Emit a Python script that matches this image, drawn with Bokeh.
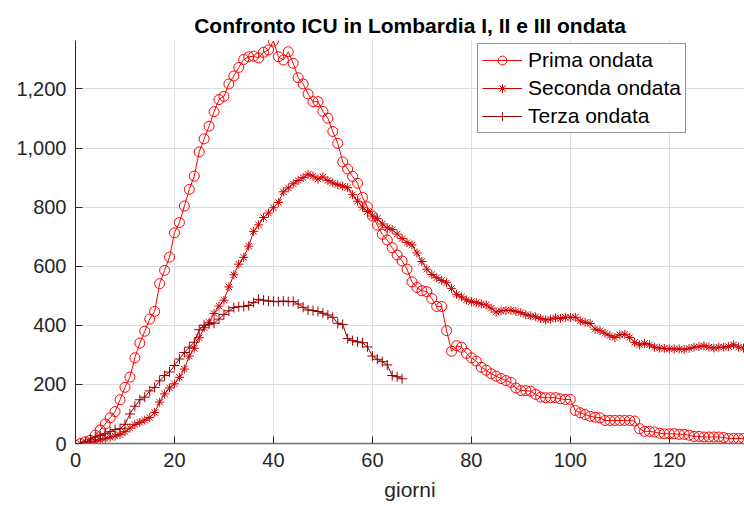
from bokeh.plotting import figure
from bokeh.models import Range1d, NumeralTickFormatter, FixedTicker, Legend, LegendItem
from bokeh.embed import file_html
from bokeh.resources import INLINE

# ---- data ----
prima = [0, 6, 11, 28, 46, 66, 87, 108, 148, 190,
         225, 290, 340, 380, 421, 447, 541, 586, 631, 713,
         748, 804, 860, 905, 987, 1031, 1074, 1123, 1164, 1175,
         1217, 1244, 1273, 1300, 1309, 1311, 1305, 1324, 1332, 1362,
         1309, 1298, 1326, 1287, 1238, 1217, 1183, 1157, 1157, 1124,
         1101, 1056, 1016, 953, 929, 904, 881, 833, 801, 770,
         739, 708, 689, 663, 638, 618, 590, 547, 528, 517,
         514, 491, 464, 464, 382, 312, 331, 326, 305, 290,
         279, 258, 248, 236, 228, 220, 213, 207, 188, 179,
         179, 177, 166, 157, 155, 155, 155, 151, 149, 149,
         112, 104, 98, 92, 89, 87, 78, 78, 78, 78,
         78, 78, 76, 50, 41, 41, 39, 35, 33, 33,
         33, 31, 31, 28, 24, 24, 22, 22, 22, 22,
         20, 17, 17, 17, 17]

seconda = [0, 2, 4, 8, 12, 16, 21, 25, 30, 40,
           52, 64, 71, 79, 88, 105, 140, 168, 188, 202,
           224, 252, 296, 322, 358, 392, 410, 440, 465, 485,
           530, 571, 607, 630, 668, 718, 740, 765, 780, 798,
           816, 852, 865, 879, 890, 900, 911, 905, 895, 902,
           890, 882, 876, 871, 866, 842, 820, 800, 785, 770,
           762, 743, 730, 724, 709, 694, 680, 672, 645, 616,
           590, 572, 561, 552, 544, 525, 505, 496, 486, 480,
           477, 472, 469, 458, 445, 449, 451, 451, 447, 443,
           436, 432, 429, 423, 418, 421, 425, 423, 427, 427,
           427, 415, 410, 406, 387, 382, 373, 365, 359, 368,
           370, 359, 342, 334, 339, 334, 326, 323, 322, 320,
           320, 320, 318, 322, 326, 328, 331, 326, 323, 326,
           326, 328, 334, 326, 323]

terza = [0, 5, 15, 22, 27, 33, 40, 47, 50, 65,
         100, 126, 148, 157, 178, 190, 212, 230, 242, 264,
         286, 308, 326, 343, 385, 400, 404, 407, 421, 437,
         449, 460, 463, 464, 467, 477, 488, 485, 482, 481,
         480, 482, 480, 481, 472, 461, 452, 450, 447, 441,
         435, 427, 407, 403, 355, 348, 344, 341, 327, 296,
         285, 277, 266, 230, 226, 219]

days_prima = list(range(1, len(prima) + 1))
days_seconda = list(range(1, len(seconda) + 1))
days_terza = list(range(1, len(terza) + 1))

x_ticks = [0, 20, 40, 60, 80, 100, 120]
y_ticks = [0, 200, 400, 600, 800, 1000, 1200]

title_text = "Confronto ICU in Lombardia I, II e III ondata"
x_label = "giorni"
labels = ["Prima ondata", "Seconda ondata", "Terza ondata"]

FONT = "Liberation Sans"
AX = "#262626"

p = figure(width=744, height=506, output_backend="svg", toolbar_location=None,
           x_range=Range1d(0, 135.2), y_range=Range1d(0, 1364),
           min_border_left=75, min_border_right=0, min_border_top=40,
           min_border_bottom=63)

p.title.text = title_text
p.title.align = "center"
p.title.text_font = FONT
p.title.text_font_size = "21px"
p.title.text_font_style = "bold"
p.title.text_color = "#000000"
p.title.standoff = 8

p.outline_line_color = None
p.background_fill_color = "white"
p.border_fill_color = "white"

# axes
p.xaxis.ticker = FixedTicker(ticks=x_ticks)
p.yaxis.ticker = FixedTicker(ticks=y_ticks)
p.yaxis.formatter = NumeralTickFormatter(format="0,0")
for ax in (p.xaxis[0], p.yaxis[0]):
    ax.major_label_text_font = FONT
    ax.major_label_text_font_size = "20px"
    ax.major_label_text_color = AX
    ax.major_tick_in = 7
    ax.major_tick_out = 0
    ax.minor_tick_in = 0
    ax.minor_tick_out = 0
    ax.major_tick_line_color = AX
p.yaxis.axis_line_color = AX
p.yaxis.axis_line_width = 1
p.yaxis.major_label_standoff = 9
p.xaxis.axis_line_color = "#707070"
p.xaxis.axis_line_width = 1.5
p.xaxis.major_label_standoff = 9
p.xaxis.axis_label = x_label
p.xaxis.axis_label_text_font = FONT
p.xaxis.axis_label_text_font_size = "21px"
p.xaxis.axis_label_text_font_style = "normal"
p.xaxis.axis_label_text_color = AX
p.xaxis.axis_label_standoff = 8

p.grid.grid_line_color = "#dedede"
p.grid.grid_line_width = 1

c1, c2, c3 = "#ff0000", "#cc0000", "#990000"

l1 = p.line(days_prima, prima, line_color=c1, line_width=1)
m1 = p.scatter(days_prima, prima, marker="circle", size=10, fill_color=None,
               line_color=c1, line_width=1)
l2 = p.line(days_seconda, seconda, line_color=c2, line_width=1)
m2 = p.scatter(days_seconda, seconda, marker="asterisk", size=9,
               line_color=c2, line_width=1)
l3 = p.line(days_terza, terza, line_color=c3, line_width=1)
m3 = p.scatter(days_terza, terza, marker="cross", size=10,
               line_color=c3, line_width=1)

legend = Legend(items=[LegendItem(label=labels[0], renderers=[l1, m1]),
                       LegendItem(label=labels[1], renderers=[l2, m2]),
                       LegendItem(label=labels[2], renderers=[l3, m3])],
                location=(402, 310))
legend.label_text_font = FONT
legend.label_text_font_size = "21px"
legend.label_text_color = "#000000"
legend.border_line_color = AX
legend.border_line_width = 1
legend.background_fill_color = "white"
legend.background_fill_alpha = 1
legend.glyph_width = 40
legend.glyph_height = 22
legend.label_standoff = 6
legend.label_height = 22
legend.spacing = 4
legend.padding = 4
legend.margin = 0
p.add_layout(legend, "center")

open("out.html", "w").write(file_html(p, INLINE))
